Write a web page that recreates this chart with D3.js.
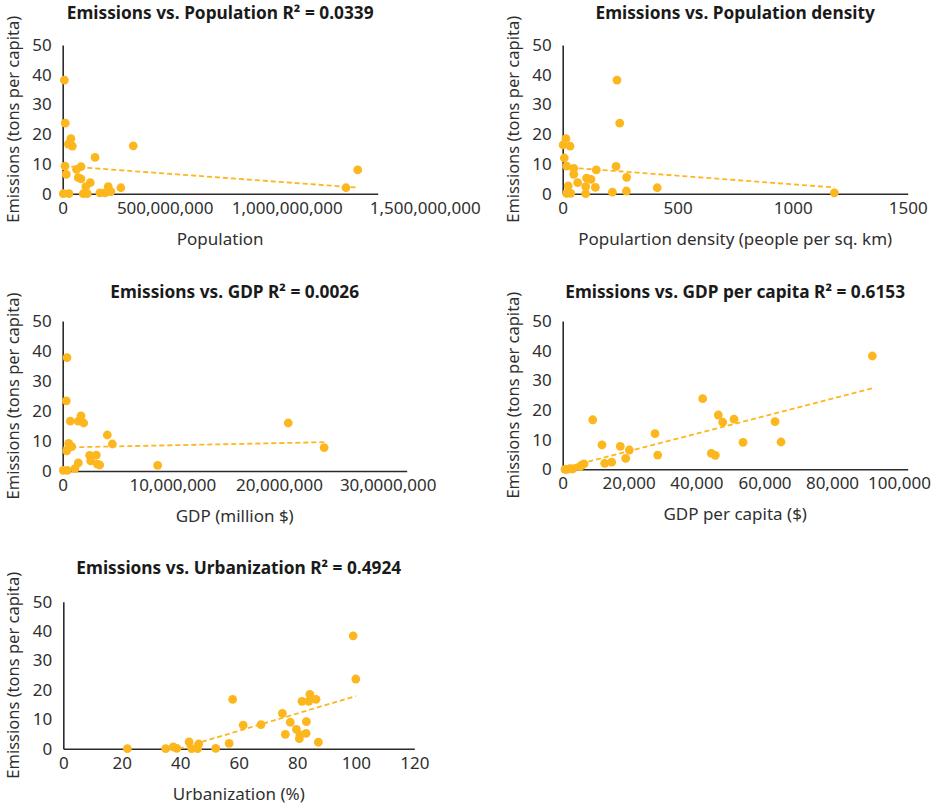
<!DOCTYPE html>
<html>
<head>
<meta charset="utf-8">
<script src="https://cdn.jsdelivr.net/npm/d3@7"></script>
<style>
  html, body { margin: 0; padding: 0; background: #fff; }
  svg text { font-family: "Noto Sans", sans-serif; }
</style>
</head>
<body>
<svg id="chart" width="931" height="804"></svg>
<script>
// ---------- DATA ----------
const yTicks = [0, 10, 20, 30, 40, 50];

// Panel 1: Population
const popX = [8e6, 12e6, 39e6, 27e6, 46e6, 336e6, 154e6, 11e6, 87e6, 66e6, 17e6, 74e6, 87e6, 131e6, 110e6, 217e6, 277e6, 213e6, 229e6, 177e6, 201e6, 3e6, 30e6, 98e6, 117e6, 1349e6, 1405e6];
const popY = [38.2, 23.7, 18.5, 16.7, 16.0, 16.1, 12.2, 9.3, 9.1, 8.2, 6.5, 5.4, 5.0, 3.7, 2.4, 2.4, 2.0, 0.7, 0.7, 0.3, 0.3, 0, 0, 0, 0, 2.0, 8.0];
const popTrend = [[3e6, 9.3], [1405e6, 2.05]];
const popTicks = [0, 5e8, 1e9, 1.5e9];
const popTickLabels = ["0", "500,000,000", "1,000,000,000", "1,500,000,000"];

// Panel 2: Population density
const densX = [236, 248, 14, 2, 32, 7, 17, 232, 48, 146, 48, 278, 104, 123, 65, 24, 100, 142, 411, 277, 216, 17, 35, 100, 1181];
const densY = [38.2, 23.7, 18.5, 16.4, 16.0, 12.0, 9.3, 9.2, 8.5, 8.0, 6.5, 5.5, 5.2, 4.8, 3.7, 2.6, 2.4, 2.1, 2.0, 0.9, 0.5, 0.1, 0.1, 0, 0.3];
const densTrend = [[0, 8.95], [1181, 2.1]];
const densTicks = [0, 500, 1000, 1500];
const densTickLabels = ["0", "500", "1000", "1500"];

// Panel 3: GDP (million $)
const gdpX = [375000, 314000, 1596000, 663000, 1360000, 1830000, 3890000, 4330000, 523000, 785000, 349000, 2350000, 2930000, 2440000, 3020000, 3230000, 1360000, 1070000, 52000, 401000, 8280000, 19670000, 22800000];
const gdpY = [37.8, 23.4, 18.4, 16.6, 16.6, 16.0, 12.0, 9.0, 9.2, 8.1, 6.7, 5.2, 5.3, 3.4, 2.3, 2.0, 2.7, 0.8, 0.2, 0.2, 1.9, 16.0, 7.8];
const gdpTrend = [[52000, 7.85], [22800000, 9.6]];
const gdpTicks = [0, 1e7, 2e7, 3e7];
const gdpTickLabels = ["0", "10,000,000", "20,000,000", "30,0000,000"];

// Panel 4: GDP per capita ($)
const gdppcX = [89750, 40580, 45110, 8700, 46380, 49660, 61550, 26760, 52270, 63290, 11390, 16700, 19310, 27540, 43080, 44240, 18260, 12170, 14200, 6170, 5020, 5500, 2900, 2100, 1330, 670];
const gdppcY = [38.2, 23.8, 18.3, 16.7, 15.9, 16.9, 16.1, 12.0, 9.1, 9.2, 8.2, 7.7, 6.5, 4.8, 5.4, 4.7, 3.7, 2.0, 2.4, 1.8, 0.9, 1.4, 0.1, 0.2, 0, 0];
const gdppcTrend = [[670, 0.6], [89750, 27.3]];
const gdppcTicks = [0, 20000, 40000, 60000, 80000, 100000];
const gdppcTickLabels = ["0", "20,000", "40,000", "60,000", "80,000", "100,000"];

// Panel 5: Urbanization (%)
const urbX = [99.1, 100, 84.3, 81.6, 83.9, 86.4, 57.9, 74.9, 77.6, 83.1, 61.5, 67.6, 79.7, 75.9, 83, 80.9, 80.7, 87.2, 56.7, 43, 46.3, 37.6, 38.8, 35, 43.9, 45.9, 52.1, 21.9];
const urbY = [38.4, 23.7, 18.5, 16.1, 16.1, 16.8, 16.8, 12.0, 9.0, 9.2, 8.0, 8.2, 6.6, 4.9, 5.2, 4.7, 3.4, 2.2, 1.8, 2.3, 1.6, 0.6, 0.1, 0, 0, 0, 0.1, 0];
const urbTrend = [[39.5, 0], [100, 17.9]];
const urbTicks = [0, 20, 40, 60, 80, 100, 120];
const urbTickLabels = ["0", "20", "40", "60", "80", "100", "120"];

const yTitle = "Emissions (tons per capita)";

// ---------- LAYOUT ----------
const COLOR = "#FDB71E";
const panels = [
  { title: "Emissions vs. Population R² = 0.0339", xTitle: "Population",
    xs: popX, ys: popY, trend: popTrend, ticks: popTicks, labels: popTickLabels,
    domain: [0, 1.5e9], left: 62.7, right: 377.7, top: 45, bottom: 193.7, titleY: 19,
    labelDx: [0, -3, 14, 47] },
  { title: "Emissions vs. Population density", xTitle: "Populartion density (people per sq. km)",
    xs: densX, ys: densY, trend: densTrend, ticks: densTicks, labels: densTickLabels,
    domain: [0, 1500], left: 562.7, right: 907.7, top: 45, bottom: 193.7, titleY: 19,
    labelDx: [0, 0, 0, 0] },
  { title: "Emissions vs. GDP R² = 0.0026", xTitle: "GDP (million $)",
    xs: gdpX, ys: gdpY, trend: gdpTrend, ticks: gdpTicks, labels: gdpTickLabels,
    domain: [0, 3e7], left: 62.7, right: 406.7, top: 321, bottom: 471, titleY: 298,
    labelDx: [0, -5, -13, -19] },
  { title: "Emissions vs. GDP per capita R² = 0.6153", xTitle: "GDP per capita ($)",
    xs: gdppcX, ys: gdppcY, trend: gdppcTrend, ticks: gdppcTicks, labels: gdppcTickLabels,
    domain: [0, 100000], left: 562.7, right: 907.7, top: 321, bottom: 469.3, titleY: 298,
    labelDx: [0, -3, -4.4, -5.2, -6.7, -8.7] },
  { title: "Emissions vs. Urbanization R² = 0.4924", xTitle: "Urbanization (%)",
    xs: urbX, ys: urbY, trend: urbTrend, ticks: urbTicks, labels: urbTickLabels,
    domain: [0, 120], left: 63.3, right: 414.3, top: 601.7, bottom: 748.7, titleY: 574,
    labelDx: [0, 0, 0, 0, 0, 0, 0] }
];

const svg = d3.select("#chart");
svg.append("rect").attr("width", 931).attr("height", 804).attr("fill", "#fff");

panels.forEach(p => {
  const x = d3.scaleLinear().domain(p.domain).range([p.left, p.right]);
  const y = d3.scaleLinear().domain([0, 50]).range([p.bottom, p.top]);
  const g = svg.append("g");

  // Title
  g.append("text")
    .attr("x", (p.left + p.right) / 2).attr("y", p.titleY)
    .attr("text-anchor", "middle")
    .attr("font-size", 17.3).attr("font-weight", "bold").attr("fill", "#1a1a1a")
    .text(p.title);

  // Y axis
  const yAxis = d3.axisLeft(y).tickValues(yTicks).tickSize(0).tickPadding(11).tickFormat(d3.format("d"));
  const ya = g.append("g").attr("transform", `translate(${p.left},0)`).call(yAxis);
  ya.select(".domain").attr("stroke", "#2b2b2b").attr("stroke-width", 1.6);
  ya.selectAll("text").attr("font-size", 17).attr("fill", "#2f2f2f")
    .attr("font-family", "Noto Sans, sans-serif");

  // X axis
  const xAxis = d3.axisBottom(x).tickValues(p.ticks).tickSize(0).tickPadding(8)
    .tickFormat((d, i) => p.labels[i]);
  const xa = g.append("g").attr("transform", `translate(0,${p.bottom})`).call(xAxis);
  xa.select(".domain").attr("stroke", "#2b2b2b").attr("stroke-width", 1.6);
  xa.selectAll("text").attr("font-size", 17).attr("fill", "#2f2f2f")
    .attr("font-family", "Noto Sans, sans-serif")
    .attr("dx", (d, i) => p.labelDx[i] || 0);

  // Axis titles
  g.append("text")
    .attr("x", (p.left + p.right) / 2).attr("y", p.bottom + 51)
    .attr("text-anchor", "middle").attr("font-size", 17).attr("fill", "#2f2f2f")
    .text(p.xTitle);
  g.append("text")
    .attr("transform", `translate(${p.left - 44},${(p.top + p.bottom) / 2}) rotate(-90)`)
    .attr("text-anchor", "middle").attr("font-size", 16.5).attr("fill", "#2f2f2f")
    .text(yTitle);

  // Points
  const pts = p.xs.map((v, i) => ({ x: v, y: p.ys[i] }));
  g.append("g").selectAll("circle").data(pts).join("circle")
    .attr("cx", d => x(d.x)).attr("cy", d => y(d.y)).attr("r", 4.4)
    .attr("fill", COLOR);

  // Trend line
  const line = d3.line().x(d => x(d[0])).y(d => y(d[1]));
  g.append("path").datum(p.trend).attr("d", line)
    .attr("fill", "none").attr("stroke", COLOR).attr("stroke-width", 1.8)
    .attr("stroke-dasharray", "5,3");
});
</script>
</body>
</html>
